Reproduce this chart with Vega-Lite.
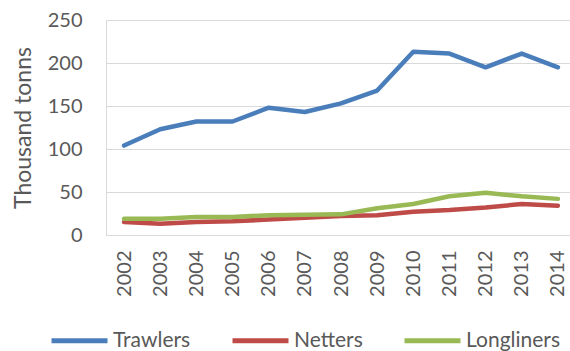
{
  "$schema": "https://vega.github.io/schema/vega-lite/v6.json",
  "width": 470,
  "height": 215,
  "autosize": {"type": "none"},
  "padding": {"left": 106, "top": 20, "right": 0, "bottom": 116},
  "background": "white",
  "config": {
    "font": "Lato",
    "view": {"stroke": null},
    "axis": {"labelColor": "#595959", "titleColor": "#595959", "labelFont": "Lato", "titleFont": "Lato"}
  },
  "data": {
    "values": [
      {"year": "2002", "fleet": "Trawlers", "value": 104},
      {"year": "2003", "fleet": "Trawlers", "value": 123},
      {"year": "2004", "fleet": "Trawlers", "value": 132},
      {"year": "2005", "fleet": "Trawlers", "value": 132},
      {"year": "2006", "fleet": "Trawlers", "value": 148},
      {"year": "2007", "fleet": "Trawlers", "value": 143},
      {"year": "2008", "fleet": "Trawlers", "value": 153},
      {"year": "2009", "fleet": "Trawlers", "value": 168},
      {"year": "2010", "fleet": "Trawlers", "value": 213},
      {"year": "2011", "fleet": "Trawlers", "value": 211},
      {"year": "2012", "fleet": "Trawlers", "value": 195},
      {"year": "2013", "fleet": "Trawlers", "value": 211},
      {"year": "2014", "fleet": "Trawlers", "value": 195},
      {"year": "2002", "fleet": "Netters", "value": 15},
      {"year": "2003", "fleet": "Netters", "value": 13},
      {"year": "2004", "fleet": "Netters", "value": 15},
      {"year": "2005", "fleet": "Netters", "value": 16},
      {"year": "2006", "fleet": "Netters", "value": 18},
      {"year": "2007", "fleet": "Netters", "value": 20},
      {"year": "2008", "fleet": "Netters", "value": 22},
      {"year": "2009", "fleet": "Netters", "value": 23},
      {"year": "2010", "fleet": "Netters", "value": 27},
      {"year": "2011", "fleet": "Netters", "value": 29},
      {"year": "2012", "fleet": "Netters", "value": 32},
      {"year": "2013", "fleet": "Netters", "value": 36},
      {"year": "2014", "fleet": "Netters", "value": 34},
      {"year": "2002", "fleet": "Longliners", "value": 19},
      {"year": "2003", "fleet": "Longliners", "value": 19},
      {"year": "2004", "fleet": "Longliners", "value": 21},
      {"year": "2005", "fleet": "Longliners", "value": 21},
      {"year": "2006", "fleet": "Longliners", "value": 23},
      {"year": "2007", "fleet": "Longliners", "value": 23.5},
      {"year": "2008", "fleet": "Longliners", "value": 24},
      {"year": "2009", "fleet": "Longliners", "value": 31},
      {"year": "2010", "fleet": "Longliners", "value": 36},
      {"year": "2011", "fleet": "Longliners", "value": 45},
      {"year": "2012", "fleet": "Longliners", "value": 49},
      {"year": "2013", "fleet": "Longliners", "value": 45},
      {"year": "2014", "fleet": "Longliners", "value": 42}
    ]
  },
  "mark": {"type": "line", "strokeWidth": 4.5, "strokeJoin": "round", "strokeCap": "round"},
  "encoding": {
    "x": {
      "field": "year", "type": "ordinal",
      "scale": {"type": "point", "padding": 0.5},
      "axis": {
        "title": null, "labelAngle": 270, "labelFontSize": 20, "labelPadding": 15,
        "ticks": false, "grid": false, "domainColor": "#d9d9d9", "domainWidth": 1
      }
    },
    "y": {
      "field": "value", "type": "quantitative",
      "scale": {"domain": [0, 250], "nice": false},
      "axis": {
        "title": "Thousand tonns", "titleFontSize": 23, "titleFontWeight": "normal", "titlePadding": 12,
        "values": [0, 50, 100, 150, 200, 250], "labelFontSize": 20, "labelPadding": 24,
        "ticks": false, "gridColor": "#d9d9d9", "gridWidth": 1.2, "domainColor": "#d9d9d9", "domainWidth": 1
      }
    },
    "color": {
      "field": "fleet", "type": "nominal",
      "scale": {"domain": ["Trawlers", "Netters", "Longliners"], "range": ["#4a7ebb", "#be4b48", "#98b954"]},
      "legend": {
        "title": null, "orient": "none", "direction": "horizontal",
        "legendX": -57, "legendY": 290,
        "symbolType": "stroke", "symbolSize": 3136, "symbolStrokeWidth": 5,
        "labelFontSize": 21, "labelColor": "#595959", "labelOffset": 3,
        "columnPadding": 31, "padding": 0
      }
    }
  }
}
